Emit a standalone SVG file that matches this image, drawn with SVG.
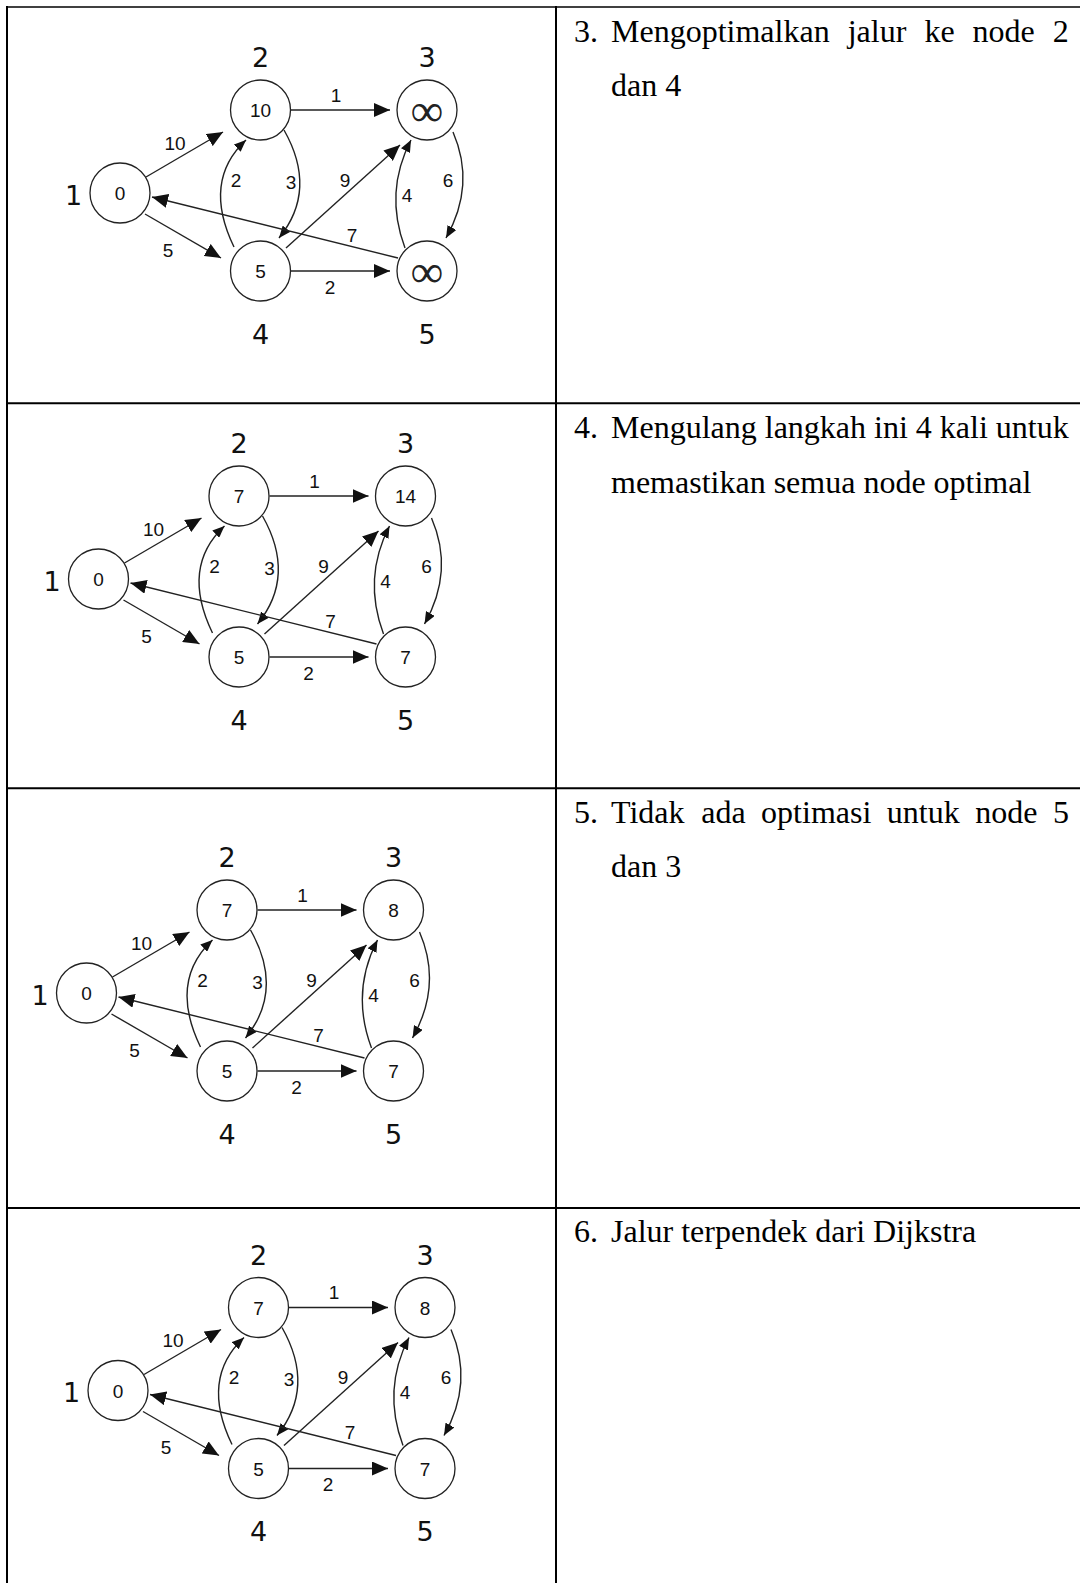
<svg xmlns="http://www.w3.org/2000/svg" width="1080" height="1583" viewBox="0 0 1080 1583">
<style>
.tbl{stroke:#000;stroke-width:2;fill:none}
.node circle{fill:#fff;stroke:#222;stroke-width:1.3}
.val{font-family:"Liberation Sans",Arial,sans-serif;font-size:19px;text-anchor:middle;fill:#111}
.lbl{font-family:"DejaVu Sans",sans-serif;font-size:27px;text-anchor:middle;fill:#111}
.inf{font-family:"Noto Sans","Liberation Serif",sans-serif;font-size:46px;font-weight:300;text-anchor:middle;fill:#222}
.edge{fill:none;stroke:#222;stroke-width:1.4}
.el{font-family:"Liberation Sans",Arial,sans-serif;font-size:19px;text-anchor:middle;fill:#111}
.txt{font-family:"Liberation Serif","Times New Roman",serif;font-size:32px;fill:#000}
</style>
<defs>
<marker id="ah" markerUnits="userSpaceOnUse" markerWidth="16" markerHeight="14" refX="16" refY="7" orient="auto"><path d="M0,0 L16,7 L0,14 z" fill="#111"/></marker>
<marker id="ahs" markerUnits="userSpaceOnUse" markerWidth="12" markerHeight="10" refX="12" refY="5" orient="auto"><path d="M0,0 L12,5 L0,10 z" fill="#111"/></marker>
</defs>
<rect width="1080" height="1583" fill="#fff"/>
<g id="table">
<line class="tbl" x1="7" y1="6" x2="7" y2="1583"/>
<line class="tbl" x1="556" y1="6" x2="556" y2="1583"/>
<line class="tbl" x1="6" y1="7" x2="1080" y2="7" style="stroke-width:1.3"/>
<line class="tbl" x1="6" y1="403.3" x2="1080" y2="403.3"/>
<line class="tbl" x1="6" y1="788.3" x2="1080" y2="788.3"/>
<line class="tbl" x1="6" y1="1208" x2="1080" y2="1208"/>
</g>
<g id="texts">
<text class="txt" x="574" y="41.5">3.</text>
<text class="txt" y="41.5"><tspan x="611">Mengoptimalkan</tspan><tspan x="847.7">jalur</tspan><tspan x="924.4">ke</tspan><tspan x="972.6">node</tspan><tspan x="1052.8">2</tspan></text>
<text class="txt" x="611" y="96">dan 4</text>
<text class="txt" x="574" y="438">4.</text>
<text class="txt" x="611" y="438">Mengulang langkah ini 4 kali untuk</text>
<text class="txt" x="611" y="492.5">memastikan semua node optimal</text>
<text class="txt" x="574" y="822.5">5.</text>
<text class="txt" y="822.5"><tspan x="611">Tidak</tspan><tspan x="701.2">ada</tspan><tspan x="761.1">optimasi</tspan><tspan x="886.8">untuk</tspan><tspan x="975.2">node</tspan><tspan x="1052.9">5</tspan></text>
<text class="txt" x="611" y="877">dan 3</text>
<text class="txt" x="574" y="1242">6.</text>
<text class="txt" x="611" y="1242">Jalur terpendek dari Dijkstra</text>
</g>

<g id="graph-1">
<g id="g1-connectors">
<path class="edge" marker-end="url(#ah)" d="M146,177 L223,132"/>
<path class="edge" marker-end="url(#ah)" d="M145,214 L221,258"/>
<path class="edge" marker-end="url(#ah)" d="M291,110 L390,110"/>
<path class="edge" marker-end="url(#ah)" d="M291,271 L390,271"/>
<path class="edge" marker-end="url(#ahs)" d="M284,130 Q318,190 279,238"/>
<path class="edge" marker-end="url(#ahs)" d="M234,247 Q202,181 246,140"/>
<path class="edge" marker-end="url(#ah)" d="M286,248 L400,145"/>
<path class="edge" marker-end="url(#ah)" d="M398,258 L152,197"/>
<path class="edge" marker-end="url(#ahs)" d="M405,248 Q384,192 411,140"/>
<path class="edge" marker-end="url(#ahs)" d="M453,132 Q476,185 446,238"/>
<text class="el" x="175" y="149.5">10</text>
<text class="el" x="168" y="256.5">5</text>
<text class="el" x="336" y="101.5">1</text>
<text class="el" x="291" y="188.5">3</text>
<text class="el" x="236" y="186.5">2</text>
<text class="el" x="345" y="186.5">9</text>
<text class="el" x="352" y="241.5">7</text>
<text class="el" x="330" y="293.5">2</text>
<text class="el" x="407" y="201.5">4</text>
<text class="el" x="448" y="186.5">6</text>
</g>
<g id="g1-n1" class="node"><circle cx="120" cy="193" r="30"/><text class="val" x="120" y="200">0</text><text class="lbl" x="73.5" y="204.8">1</text></g>
<g id="g1-n2" class="node"><circle cx="260.5" cy="110" r="30"/><text class="val" x="260.5" y="117">10</text><text class="lbl" x="260.5" y="67">2</text></g>
<g id="g1-n3" class="node"><circle cx="427" cy="110" r="30"/><text class="inf" x="427" y="126.4">∞</text><text class="lbl" x="427" y="67">3</text></g>
<g id="g1-n4" class="node"><circle cx="260.5" cy="271" r="30"/><text class="val" x="260.5" y="278">5</text><text class="lbl" x="260.5" y="343.8">4</text></g>
<g id="g1-n5" class="node"><circle cx="427" cy="271" r="30"/><text class="inf" x="427" y="287.4">∞</text><text class="lbl" x="427" y="343.8">5</text></g>
</g>

<g id="graph-2" transform="translate(-21.5,386)">
<g id="g2-connectors">
<path class="edge" marker-end="url(#ah)" d="M146,177 L223,132"/>
<path class="edge" marker-end="url(#ah)" d="M145,214 L221,258"/>
<path class="edge" marker-end="url(#ah)" d="M291,110 L390,110"/>
<path class="edge" marker-end="url(#ah)" d="M291,271 L390,271"/>
<path class="edge" marker-end="url(#ahs)" d="M284,130 Q318,190 279,238"/>
<path class="edge" marker-end="url(#ahs)" d="M234,247 Q202,181 246,140"/>
<path class="edge" marker-end="url(#ah)" d="M286,248 L400,145"/>
<path class="edge" marker-end="url(#ah)" d="M398,258 L152,197"/>
<path class="edge" marker-end="url(#ahs)" d="M405,248 Q384,192 411,140"/>
<path class="edge" marker-end="url(#ahs)" d="M453,132 Q476,185 446,238"/>
<text class="el" x="175" y="149.5">10</text>
<text class="el" x="168" y="256.5">5</text>
<text class="el" x="336" y="101.5">1</text>
<text class="el" x="291" y="188.5">3</text>
<text class="el" x="236" y="186.5">2</text>
<text class="el" x="345" y="186.5">9</text>
<text class="el" x="352" y="241.5">7</text>
<text class="el" x="330" y="293.5">2</text>
<text class="el" x="407" y="201.5">4</text>
<text class="el" x="448" y="186.5">6</text>
</g>
<g id="g2-n1" class="node"><circle cx="120" cy="193" r="30"/><text class="val" x="120" y="200">0</text><text class="lbl" x="73.5" y="204.8">1</text></g>
<g id="g2-n2" class="node"><circle cx="260.5" cy="110" r="30"/><text class="val" x="260.5" y="117">7</text><text class="lbl" x="260.5" y="67">2</text></g>
<g id="g2-n3" class="node"><circle cx="427" cy="110" r="30"/><text class="val" x="427" y="117">14</text><text class="lbl" x="427" y="67">3</text></g>
<g id="g2-n4" class="node"><circle cx="260.5" cy="271" r="30"/><text class="val" x="260.5" y="278">5</text><text class="lbl" x="260.5" y="343.8">4</text></g>
<g id="g2-n5" class="node"><circle cx="427" cy="271" r="30"/><text class="val" x="427" y="278">7</text><text class="lbl" x="427" y="343.8">5</text></g>
</g>

<g id="graph-3" transform="translate(-33.5,800)">
<g id="g3-connectors">
<path class="edge" marker-end="url(#ah)" d="M146,177 L223,132"/>
<path class="edge" marker-end="url(#ah)" d="M145,214 L221,258"/>
<path class="edge" marker-end="url(#ah)" d="M291,110 L390,110"/>
<path class="edge" marker-end="url(#ah)" d="M291,271 L390,271"/>
<path class="edge" marker-end="url(#ahs)" d="M284,130 Q318,190 279,238"/>
<path class="edge" marker-end="url(#ahs)" d="M234,247 Q202,181 246,140"/>
<path class="edge" marker-end="url(#ah)" d="M286,248 L400,145"/>
<path class="edge" marker-end="url(#ah)" d="M398,258 L152,197"/>
<path class="edge" marker-end="url(#ahs)" d="M405,248 Q384,192 411,140"/>
<path class="edge" marker-end="url(#ahs)" d="M453,132 Q476,185 446,238"/>
<text class="el" x="175" y="149.5">10</text>
<text class="el" x="168" y="256.5">5</text>
<text class="el" x="336" y="101.5">1</text>
<text class="el" x="291" y="188.5">3</text>
<text class="el" x="236" y="186.5">2</text>
<text class="el" x="345" y="186.5">9</text>
<text class="el" x="352" y="241.5">7</text>
<text class="el" x="330" y="293.5">2</text>
<text class="el" x="407" y="201.5">4</text>
<text class="el" x="448" y="186.5">6</text>
</g>
<g id="g3-n1" class="node"><circle cx="120" cy="193" r="30"/><text class="val" x="120" y="200">0</text><text class="lbl" x="73.5" y="204.8">1</text></g>
<g id="g3-n2" class="node"><circle cx="260.5" cy="110" r="30"/><text class="val" x="260.5" y="117">7</text><text class="lbl" x="260.5" y="67">2</text></g>
<g id="g3-n3" class="node"><circle cx="427" cy="110" r="30"/><text class="val" x="427" y="117">8</text><text class="lbl" x="427" y="67">3</text></g>
<g id="g3-n4" class="node"><circle cx="260.5" cy="271" r="30"/><text class="val" x="260.5" y="278">5</text><text class="lbl" x="260.5" y="343.8">4</text></g>
<g id="g3-n5" class="node"><circle cx="427" cy="271" r="30"/><text class="val" x="427" y="278">7</text><text class="lbl" x="427" y="343.8">5</text></g>
</g>

<g id="graph-4" transform="translate(-2,1197.5)">
<g id="g4-connectors">
<path class="edge" marker-end="url(#ah)" d="M146,177 L223,132"/>
<path class="edge" marker-end="url(#ah)" d="M145,214 L221,258"/>
<path class="edge" marker-end="url(#ah)" d="M291,110 L390,110"/>
<path class="edge" marker-end="url(#ah)" d="M291,271 L390,271"/>
<path class="edge" marker-end="url(#ahs)" d="M284,130 Q318,190 279,238"/>
<path class="edge" marker-end="url(#ahs)" d="M234,247 Q202,181 246,140"/>
<path class="edge" marker-end="url(#ah)" d="M286,248 L400,145"/>
<path class="edge" marker-end="url(#ah)" d="M398,258 L152,197"/>
<path class="edge" marker-end="url(#ahs)" d="M405,248 Q384,192 411,140"/>
<path class="edge" marker-end="url(#ahs)" d="M453,132 Q476,185 446,238"/>
<text class="el" x="175" y="149.5">10</text>
<text class="el" x="168" y="256.5">5</text>
<text class="el" x="336" y="101.5">1</text>
<text class="el" x="291" y="188.5">3</text>
<text class="el" x="236" y="186.5">2</text>
<text class="el" x="345" y="186.5">9</text>
<text class="el" x="352" y="241.5">7</text>
<text class="el" x="330" y="293.5">2</text>
<text class="el" x="407" y="201.5">4</text>
<text class="el" x="448" y="186.5">6</text>
</g>
<g id="g4-n1" class="node"><circle cx="120" cy="193" r="30"/><text class="val" x="120" y="200">0</text><text class="lbl" x="73.5" y="204.8">1</text></g>
<g id="g4-n2" class="node"><circle cx="260.5" cy="110" r="30"/><text class="val" x="260.5" y="117">7</text><text class="lbl" x="260.5" y="67">2</text></g>
<g id="g4-n3" class="node"><circle cx="427" cy="110" r="30"/><text class="val" x="427" y="117">8</text><text class="lbl" x="427" y="67">3</text></g>
<g id="g4-n4" class="node"><circle cx="260.5" cy="271" r="30"/><text class="val" x="260.5" y="278">5</text><text class="lbl" x="260.5" y="343.8">4</text></g>
<g id="g4-n5" class="node"><circle cx="427" cy="271" r="30"/><text class="val" x="427" y="278">7</text><text class="lbl" x="427" y="343.8">5</text></g>
</g>
</svg>
